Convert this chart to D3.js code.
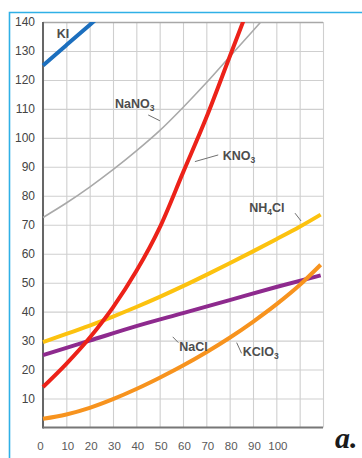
<!DOCTYPE html>
<html>
<head>
<meta charset="utf-8">
<script src="https://cdn.jsdelivr.net/npm/d3@7/dist/d3.min.js"></script>
<style>
  html, body { margin: 0; padding: 0; background: #fff; }
  svg { display: block; }
</style>
</head>
<body>
<svg id="chart" width="362" height="458"></svg>
<script>
// Solubility curves: grams of salt per 100 g of water vs. temperature (°C)
const xTicks = [0, 10, 20, 30, 40, 50, 60, 70, 80, 90, 100, 110, 120];
const xTickLabels = [0, 10, 20, 30, 40, 50, 60, 70, 80, 90, 100];
const yTicks = [10, 20, 30, 40, 50, 60, 70, 80, 90, 100, 110, 120, 130, 140];

const tempsKI = [0, 10, 20, 30];
const valuesKI = [125, 132, 139, 146];

const tempsNaNO3 = [0, 10, 20, 30, 40, 50, 60, 70, 80, 90, 100];
const valuesNaNO3 = [72.5, 77.5, 83, 89, 95.5, 102.5, 110.5, 119, 128, 137, 146];

const tempsKNO3 = [0, 10, 20, 30, 40, 50, 60, 70, 80, 90];
const valuesKNO3 = [14, 22, 31, 41.5, 54, 69, 88, 107, 128, 149];

const tempsNH4Cl = [0, 10, 20, 30, 40, 50, 60, 70, 80, 90, 100, 110, 119];
const valuesNH4Cl = [29.5, 32.3, 35.2, 38.3, 41.6, 45.1, 48.8, 52.7, 56.7, 60.8, 65, 69.3, 73.5];

const tempsNaCl = [0, 20, 40, 60, 80, 100, 119];
const valuesNaCl = [25, 30, 35, 39.5, 44, 48.5, 52.5];

const tempsKClO3 = [0, 10, 20, 30, 40, 50, 60, 70, 80, 90, 100, 110, 119];
const valuesKClO3 = [3, 4.5, 6.8, 9.8, 13.3, 17.2, 21.4, 26, 31, 36.5, 42.5, 49.2, 56.2];

const svg = d3.select("#chart");
const W = 362, H = 458;
const plotL = 43, plotT = 22, plotR = 323, plotB = 427.5;

const x = d3.scaleLinear().domain([0, 120]).range([plotL, plotR]);
const y = d3.scaleLinear().domain([0, 140]).range([plotB, plotT]);

// page frame (blue rule on top and left)
svg.append("path")
  .attr("d", `M9.5,${H} V12.5 H${W}`)
  .attr("fill", "none")
  .attr("stroke", "#2fb0e6")
  .attr("stroke-width", 1.6);

// vertical grid + x labels
const xAxis = svg.append("g")
  .attr("transform", `translate(0,${plotB})`)
  .call(d3.axisBottom(x)
    .tickValues(xTicks)
    .tickSize(-(plotB - plotT))
    .tickPadding(14.5)
    .tickFormat(d => xTickLabels.includes(d) ? d : ""));
xAxis.select(".domain").remove();
xAxis.selectAll(".tick line").attr("stroke", "#cfcfcf").attr("stroke-width", 1.1);
xAxis.selectAll(".tick text")
  .attr("fill", "#5a5a5a")
  .style("font", "11.5px 'Liberation Sans', Arial, sans-serif")
  .attr("dx", d => d === 0 ? -3 : 1);

// horizontal grid + y labels
const yAxis = svg.append("g")
  .attr("transform", `translate(${plotL},0)`)
  .call(d3.axisLeft(y)
    .tickValues(yTicks)
    .tickSize(-(plotR - plotL))
    .tickPadding(8));
yAxis.select(".domain").remove();
yAxis.selectAll(".tick line")
  .attr("stroke", d => d === 140 ? "#a8a8a8" : "#cfcfcf")
  .attr("stroke-width", d => d === 140 ? 1.4 : 1.1);
yAxis.selectAll(".tick text")
  .attr("fill", "#444")
  .style("font", "12px 'Liberation Sans', Arial, sans-serif");

// axis lines
svg.append("line")
  .attr("x1", plotL).attr("x2", plotL).attr("y1", plotT).attr("y2", plotB + 1)
  .attr("stroke", "#666").attr("stroke-width", 2);
svg.append("line")
  .attr("x1", plotL).attr("x2", plotR).attr("y1", plotB).attr("y2", plotB)
  .attr("stroke", "#777").attr("stroke-width", 2);

// curves, clipped at the top of the grid
svg.append("clipPath").attr("id", "plotClip")
  .append("rect").attr("x", 0).attr("y", plotT).attr("width", W).attr("height", plotB - plotT);

const series = [
  { name: "NaNO3", temps: tempsNaNO3, values: valuesNaNO3, color: "#a9a9a9", width: 1.6 },
  { name: "NaCl", temps: tempsNaCl, values: valuesNaCl, color: "#8e2a8e", width: 4 },
  { name: "NH4Cl", temps: tempsNH4Cl, values: valuesNH4Cl, color: "#fcc20f", width: 4 },
  { name: "KClO3", temps: tempsKClO3, values: valuesKClO3, color: "#f7931e", width: 4 },
  { name: "KNO3", temps: tempsKNO3, values: valuesKNO3, color: "#ec2219", width: 4 },
  { name: "KI", temps: tempsKI, values: valuesKI, color: "#1c6fbe", width: 4 }
];

const line = d3.line()
  .x(d => x(d[0]))
  .y(d => y(d[1]))
  .curve(d3.curveMonotoneX);

const curves = svg.append("g").attr("clip-path", "url(#plotClip)");
series.forEach(s => {
  curves.append("path")
    .datum(d3.zip(s.temps, s.values))
    .attr("d", line)
    .attr("fill", "none")
    .attr("stroke", s.color)
    .attr("stroke-width", s.width)
    .attr("stroke-linejoin", "round");
});

// curve labels with short leader lines (anchors in °C / g units)
const labels = [
  { parts: [["KI", false]], at: [5.9, 134.4] },
  { parts: [["NaNO", false], ["3", true]], at: [30.9, 110.2], lead: [[45.1, 107.9], [50.1, 105.9]] },
  { parts: [["KNO", false], ["3", true]], at: [77, 92.4], lead: [[65.1, 91.8], [75.1, 94.1]] },
  { parts: [["NH", false], ["4", true], ["Cl", false]], at: [88.4, 74.4], lead: [[108, 74], [110.6, 71.3]] },
  { parts: [["NaCl", false]], at: [58.4, 26.5], lead: [[55.6, 31.3], [58, 29.3]] },
  { parts: [["KClO", false], ["3", true]], at: [85.6, 24.7], lead: [[83, 29.3], [85.1, 25.6]] }
];

labels.forEach(l => {
  if (l.lead) {
    svg.append("line")
      .attr("x1", x(l.lead[0][0])).attr("y1", y(l.lead[0][1]))
      .attr("x2", x(l.lead[1][0])).attr("y2", y(l.lead[1][1]))
      .attr("stroke", "#707070").attr("stroke-width", 1);
  }
  const t = svg.append("text")
    .attr("x", x(l.at[0])).attr("y", y(l.at[1]))
    .attr("fill", "#4d4d4d")
    .style("font", "bold 12.5px 'Liberation Sans', Arial, sans-serif");
  l.parts.forEach(([txt, sub], i) => {
    const ts = t.append("tspan").text(txt);
    if (sub) ts.attr("dy", 3).style("font-size", "8.5px");
    else if (i > 0 && l.parts[i - 1][1]) ts.attr("dy", -3);
  });
});

// panel letter
svg.append("text")
  .attr("x", 335).attr("y", 447.5)
  .attr("fill", "#1a1a1a")
  .style("font", "italic bold 30px 'Liberation Serif', 'DejaVu Serif', serif")
  .text("a.");
</script>
</body>
</html>
